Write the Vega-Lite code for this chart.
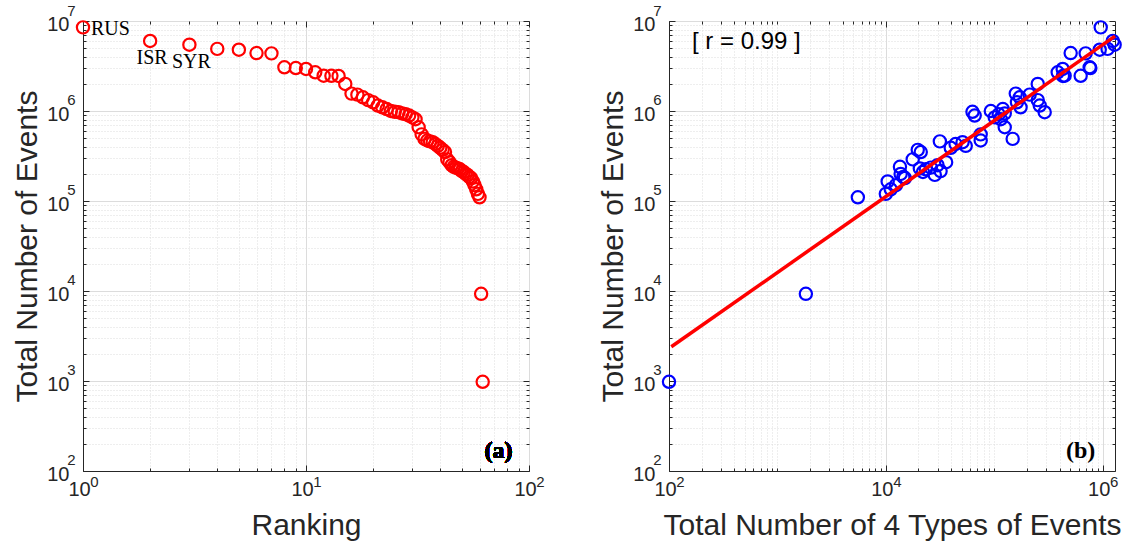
{
  "$schema": "https://vega.github.io/schema/vega-lite/v6.json",
  "background": "white",
  "padding": {"left": 12, "top": 2, "right": 5, "bottom": 5},
  "bounds": "flush",
  "spacing": 140,
  "datasets": {
    "countries": [
      {"rank": 1, "total": 8500000, "x4": 960000, "label": "RUS"},
      {"rank": 2, "total": 6000000, "x4": 1240000, "label": "ISR"},
      {"rank": 3, "total": 5460000, "x4": 1290000, "label": "SYR"},
      {"rank": 4, "total": 4900000, "x4": 1110000, "label": ""},
      {"rank": 5, "total": 4800000, "x4": 940000, "label": ""},
      {"rank": 6, "total": 4400000, "x4": 507000, "label": ""},
      {"rank": 7, "total": 4370000, "x4": 697000, "label": ""},
      {"rank": 8, "total": 3060000, "x4": 759000, "label": ""},
      {"rank": 9, "total": 3000000, "x4": 770000, "label": ""},
      {"rank": 10, "total": 2930000, "x4": 428000, "label": ""},
      {"rank": 11, "total": 2690000, "x4": 385000, "label": ""},
      {"rank": 12, "total": 2470000, "x4": 446000, "label": ""},
      {"rank": 13, "total": 2460000, "x4": 627000, "label": ""},
      {"rank": 14, "total": 2450000, "x4": 430000, "label": ""},
      {"rank": 15, "total": 2000000, "x4": 252000, "label": ""},
      {"rank": 16, "total": 1560000, "x4": 158000, "label": ""},
      {"rank": 17, "total": 1520000, "x4": 212000, "label": ""},
      {"rank": 18, "total": 1420000, "x4": 172000, "label": ""},
      {"rank": 19, "total": 1320000, "x4": 252000, "label": ""},
      {"rank": 20, "total": 1250000, "x4": 162000, "label": ""},
      {"rank": 21, "total": 1150000, "x4": 263000, "label": ""},
      {"rank": 22, "total": 1100000, "x4": 175000, "label": ""},
      {"rank": 23, "total": 1050000, "x4": 120000, "label": ""},
      {"rank": 24, "total": 1000000, "x4": 93000, "label": ""},
      {"rank": 25, "total": 980000, "x4": 63000, "label": ""},
      {"rank": 26, "total": 970000, "x4": 292000, "label": ""},
      {"rank": 27, "total": 940000, "x4": 125000, "label": ""},
      {"rank": 28, "total": 920000, "x4": 110000, "label": ""},
      {"rank": 29, "total": 890000, "x4": 66000, "label": ""},
      {"rank": 30, "total": 850000, "x4": 101000, "label": ""},
      {"rank": 31, "total": 810000, "x4": 115000, "label": ""},
      {"rank": 32, "total": 660000, "x4": 125000, "label": ""},
      {"rank": 33, "total": 550000, "x4": 75000, "label": ""},
      {"rank": 34, "total": 490000, "x4": 148000, "label": ""},
      {"rank": 35, "total": 470000, "x4": 75000, "label": ""},
      {"rank": 36, "total": 460000, "x4": 31500, "label": ""},
      {"rank": 37, "total": 450000, "x4": 51000, "label": ""},
      {"rank": 38, "total": 430000, "x4": 44000, "label": ""},
      {"rank": 39, "total": 410000, "x4": 54600, "label": ""},
      {"rank": 40, "total": 390000, "x4": 39700, "label": ""},
      {"rank": 41, "total": 370000, "x4": 19700, "label": ""},
      {"rank": 42, "total": 350000, "x4": 21000, "label": ""},
      {"rank": 43, "total": 290000, "x4": 17700, "label": ""},
      {"rank": 44, "total": 270000, "x4": 36000, "label": ""},
      {"rank": 45, "total": 250000, "x4": 30000, "label": ""},
      {"rank": 46, "total": 240000, "x4": 13500, "label": ""},
      {"rank": 47, "total": 235000, "x4": 26000, "label": ""},
      {"rank": 48, "total": 230000, "x4": 20600, "label": ""},
      {"rank": 49, "total": 225000, "x4": 23400, "label": ""},
      {"rank": 50, "total": 215000, "x4": 32000, "label": ""},
      {"rank": 51, "total": 210000, "x4": 22000, "label": ""},
      {"rank": 52, "total": 200000, "x4": 13700, "label": ""},
      {"rank": 53, "total": 195000, "x4": 28300, "label": ""},
      {"rank": 54, "total": 185000, "x4": 14500, "label": ""},
      {"rank": 55, "total": 180000, "x4": 15000, "label": ""},
      {"rank": 56, "total": 165000, "x4": 10400, "label": ""},
      {"rank": 57, "total": 150000, "x4": 12400, "label": ""},
      {"rank": 58, "total": 135000, "x4": 11100, "label": ""},
      {"rank": 59, "total": 120000, "x4": 10000, "label": ""},
      {"rank": 60, "total": 110000, "x4": 5520, "label": ""},
      {"rank": 61, "total": 9300, "x4": 1830, "label": ""},
      {"rank": 62, "total": 980, "x4": 100, "label": ""}
    ],
    "fit": [
      {"x": 105, "y": 2400},
      {"x": 1300000, "y": 6800000}
    ]
  },
  "config": {
    "font": "Liberation Sans",
    "view": {"stroke": "#262626", "strokeWidth": 1},
    "axis": {
      "labelFont": "Liberation Sans",
      "labelFontSize": 20,
      "labelColor": "#262626",
      "titleFont": "Liberation Sans",
      "titleFontSize": 30,
      "titleFontWeight": "normal",
      "titleColor": "#262626",
      "domainColor": "#262626",
      "tickColor": "#262626",
      "gridColor": "#dcdcdc",
      "gridWidth": 1,
      "labelOverlap": false,
      "labelFlush": false,
      "labelBound": false
    }
  },
  "hconcat": [
    {
      "width": 446,
      "height": 450,
      "data": {"name": "countries"},
      "resolve": {"axis": {"x": "independent", "y": "independent"}},
      "encoding": {
        "x": {"field": "rank", "type": "quantitative", "scale": {"type": "log", "domain": [1, 100]}, "axis": null},
        "y": {"field": "total", "type": "quantitative", "scale": {"type": "log", "domain": [100, 10000000]}, "axis": null}
      },
      "layer": [
        {
          "mark": {"type": "point", "shape": "circle", "filled": false, "color": "#ff0000", "size": 150, "strokeWidth": 2.2, "opacity": 1},
          "encoding": {
            "x": {
              "field": "rank", "type": "quantitative",
              "scale": {"type": "log", "domain": [1, 100]},
              "axis": {
                "title": "Ranking",
                "values": [1,1.0001,2,3,4,5,6,7,8,9,10,10.001,20,30,40,50,60,70,80,90,99.99,100],
                "labelExpr": "abs(log(datum.value)/LN10 - round(log(datum.value)/LN10)) < 0.000001 ? '10' : (abs(log(datum.value)/LN10 - round(log(datum.value)/LN10)) < 0.001 ? '' + round(log(datum.value)/LN10) : '')",
                "labelFontSize": {"condition": {"test": "abs(log(datum.value)/LN10 - round(log(datum.value)/LN10)) >= 0.000001 && abs(log(datum.value)/LN10 - round(log(datum.value)/LN10)) < 0.001", "value": 15}, "value": 20},
                "labelPadding": {"condition": {"test": "abs(log(datum.value)/LN10 - round(log(datum.value)/LN10)) >= 0.000001 && abs(log(datum.value)/LN10 - round(log(datum.value)/LN10)) < 0.001", "value": 6}, "value": 14},
                "labelOffset": {"condition": {"test": "abs(log(datum.value)/LN10 - round(log(datum.value)/LN10)) >= 0.000001 && abs(log(datum.value)/LN10 - round(log(datum.value)/LN10)) < 0.001", "value": 11}, "value": -4},
                "gridDash": {"condition": {"test": "abs(log(datum.value)/LN10 - round(log(datum.value)/LN10)) < 0.000001", "value": []}, "value": [1, 2]},
                "gridOpacity": {"condition": {"test": "abs(log(datum.value)/LN10 - round(log(datum.value)/LN10)) >= 0.000001 && abs(log(datum.value)/LN10 - round(log(datum.value)/LN10)) < 0.001", "value": 0}, "value": 1},
                "tickOpacity": {"condition": {"test": "abs(log(datum.value)/LN10 - round(log(datum.value)/LN10)) >= 0.000001 && abs(log(datum.value)/LN10 - round(log(datum.value)/LN10)) < 0.001", "value": 0}, "value": 1},
                "tickSize": {"condition": {"test": "abs(log(datum.value)/LN10 - round(log(datum.value)/LN10)) < 0.000001", "value": -6}, "value": -3},
                "titlePadding": 8
              }
            },
            "y": {
              "field": "total", "type": "quantitative",
              "scale": {"type": "log", "domain": [100, 10000000]},
              "axis": {
                "title": "Total Number of Events",
                "values": [100,100.01,200,300,400,500,600,700,800,900,1000,1000.1,2000,3000,4000,5000,6000,7000,8000,9000,10000,10001,20000,30000,40000,50000,60000,70000,80000,90000,100000,100010,200000,300000,400000,500000,600000,700000,800000,900000,1000000,1000100,2000000,3000000,4000000,5000000,6000000,7000000,8000000,9000000,9999000,10000000],
                "labelExpr": "abs(log(datum.value)/LN10 - round(log(datum.value)/LN10)) < 0.000001 ? '10' : (abs(log(datum.value)/LN10 - round(log(datum.value)/LN10)) < 0.001 ? '' + round(log(datum.value)/LN10) : '')",
                "labelFontSize": {"condition": {"test": "abs(log(datum.value)/LN10 - round(log(datum.value)/LN10)) >= 0.000001 && abs(log(datum.value)/LN10 - round(log(datum.value)/LN10)) < 0.001", "value": 15}, "value": 20},
                "labelPadding": {"condition": {"test": "abs(log(datum.value)/LN10 - round(log(datum.value)/LN10)) >= 0.000001 && abs(log(datum.value)/LN10 - round(log(datum.value)/LN10)) < 0.001", "value": 11}, "value": 20},
                "labelOffset": {"condition": {"test": "abs(log(datum.value)/LN10 - round(log(datum.value)/LN10)) >= 0.000001 && abs(log(datum.value)/LN10 - round(log(datum.value)/LN10)) < 0.001", "value": -11}, "value": 3},
                "gridDash": {"condition": {"test": "abs(log(datum.value)/LN10 - round(log(datum.value)/LN10)) < 0.000001", "value": []}, "value": [1, 2]},
                "gridOpacity": {"condition": {"test": "abs(log(datum.value)/LN10 - round(log(datum.value)/LN10)) >= 0.000001 && abs(log(datum.value)/LN10 - round(log(datum.value)/LN10)) < 0.001", "value": 0}, "value": 1},
                "tickOpacity": {"condition": {"test": "abs(log(datum.value)/LN10 - round(log(datum.value)/LN10)) >= 0.000001 && abs(log(datum.value)/LN10 - round(log(datum.value)/LN10)) < 0.001", "value": 0}, "value": 1},
                "tickSize": {"condition": {"test": "abs(log(datum.value)/LN10 - round(log(datum.value)/LN10)) < 0.000001", "value": -6}, "value": -3},
                "titlePadding": 4
              }
            }
          }
        },
        {
          "mark": {"type": "point", "shape": "circle", "filled": false, "opacity": 0},
          "encoding": {
            "x": {
              "field": "rank", "type": "quantitative",
              "scale": {"type": "log", "domain": [1, 100]},
              "axis": {
                "orient": "top", "title": null, "labels": false, "domain": false, "grid": false,
                "values": [1,2,3,4,5,6,7,8,9,10,20,30,40,50,60,70,80,90,100],
                "tickSize": {"condition": {"test": "abs(log(datum.value)/LN10 - round(log(datum.value)/LN10)) < 0.000001", "value": -6}, "value": -3}
              }
            },
            "y": {
              "field": "total", "type": "quantitative",
              "scale": {"type": "log", "domain": [100, 10000000]},
              "axis": {
                "orient": "right", "title": null, "labels": false, "domain": false, "grid": false,
                "values": [100,200,300,400,500,600,700,800,900,1000,2000,3000,4000,5000,6000,7000,8000,9000,10000,20000,30000,40000,50000,60000,70000,80000,90000,100000,200000,300000,400000,500000,600000,700000,800000,900000,1000000,2000000,3000000,4000000,5000000,6000000,7000000,8000000,9000000,10000000],
                "tickSize": {"condition": {"test": "abs(log(datum.value)/LN10 - round(log(datum.value)/LN10)) < 0.000001", "value": -6}, "value": -3}
              }
            }
          }
        },
        {
          "transform": [{"filter": "datum.label == 'RUS'"}],
          "mark": {"type": "text", "align": "left", "baseline": "middle", "dx": 8, "dy": 2, "font": "Liberation Serif", "fontSize": 20, "color": "#000000"},
          "encoding": {"text": {"field": "label"}}
        },
        {
          "transform": [{"filter": "datum.label == 'ISR' || datum.label == 'SYR'"}],
          "mark": {"type": "text", "align": "center", "baseline": "middle", "dy": 17, "dx": 2, "font": "Liberation Serif", "fontSize": 20, "color": "#000000"},
          "encoding": {"text": {"field": "label"}}
        },
        {
          "mark": {"type": "text", "align": "center", "baseline": "middle", "font": "Liberation Serif", "fontWeight": "bold", "fontSize": 24, "color": "#000000"},
          "encoding": {
            "x": {"datum": 73, "type": "quantitative", "scale": {"type": "log", "domain": [1, 100]}},
            "y": {"datum": 166, "type": "quantitative", "scale": {"type": "log", "domain": [100, 10000000]}},
            "text": {"value": "(a)"}
          }
        }
      ]
    },
    {
      "width": 446,
      "height": 450,
      "resolve": {"axis": {"x": "independent", "y": "independent"}},
      "layer": [
        {
          "data": {"name": "countries"},
          "mark": {"type": "point", "shape": "circle", "filled": false, "color": "#0000ff", "size": 150, "strokeWidth": 2.2, "opacity": 1},
          "encoding": {
            "x": {
              "field": "x4", "type": "quantitative",
              "scale": {"type": "log", "domain": [100, 1300000]},
              "axis": {
                "title": "Total Number of 4 Types of Events",
                "values": [100,100.01,200,300,400,500,600,700,800,900,1000,2000,3000,4000,5000,6000,7000,8000,9000,10000,10001,20000,30000,40000,50000,60000,70000,80000,90000,100000,200000,300000,400000,500000,600000,700000,800000,900000,1000000,1000100],
                "labelExpr": "abs(log(datum.value)/LN10 - round(log(datum.value)/LN10)) < 0.000001 && round(log(datum.value)/LN10) % 2 == 0 ? '10' : (abs(log(datum.value)/LN10 - round(log(datum.value)/LN10)) < 0.001 && abs(log(datum.value)/LN10 - round(log(datum.value)/LN10)) >= 0.000001 ? '' + round(log(datum.value)/LN10) : '')",
                "labelFontSize": {"condition": {"test": "abs(log(datum.value)/LN10 - round(log(datum.value)/LN10)) >= 0.000001 && abs(log(datum.value)/LN10 - round(log(datum.value)/LN10)) < 0.001", "value": 15}, "value": 20},
                "labelPadding": {"condition": {"test": "abs(log(datum.value)/LN10 - round(log(datum.value)/LN10)) >= 0.000001 && abs(log(datum.value)/LN10 - round(log(datum.value)/LN10)) < 0.001", "value": 6}, "value": 14},
                "labelOffset": {"condition": {"test": "abs(log(datum.value)/LN10 - round(log(datum.value)/LN10)) >= 0.000001 && abs(log(datum.value)/LN10 - round(log(datum.value)/LN10)) < 0.001", "value": 11}, "value": -4},
                "gridDash": {"condition": {"test": "abs(log(datum.value)/LN10 - round(log(datum.value)/LN10)) < 0.000001 && round(log(datum.value)/LN10) % 2 == 0", "value": []}, "value": [1, 2]},
                "gridOpacity": {"condition": {"test": "abs(log(datum.value)/LN10 - round(log(datum.value)/LN10)) >= 0.000001 && abs(log(datum.value)/LN10 - round(log(datum.value)/LN10)) < 0.001", "value": 0}, "value": 1},
                "tickOpacity": {"condition": {"test": "abs(log(datum.value)/LN10 - round(log(datum.value)/LN10)) >= 0.000001 && abs(log(datum.value)/LN10 - round(log(datum.value)/LN10)) < 0.001", "value": 0}, "value": 1},
                "tickSize": {"condition": {"test": "abs(log(datum.value)/LN10 - round(log(datum.value)/LN10)) < 0.000001 && round(log(datum.value)/LN10) % 2 == 0", "value": -6}, "value": -3},
                "titlePadding": 8
              }
            },
            "y": {
              "field": "total", "type": "quantitative",
              "scale": {"type": "log", "domain": [100, 10000000]},
              "axis": {
                "title": "Total Number of Events",
                "values": [100,100.01,200,300,400,500,600,700,800,900,1000,1000.1,2000,3000,4000,5000,6000,7000,8000,9000,10000,10001,20000,30000,40000,50000,60000,70000,80000,90000,100000,100010,200000,300000,400000,500000,600000,700000,800000,900000,1000000,1000100,2000000,3000000,4000000,5000000,6000000,7000000,8000000,9000000,9999000,10000000],
                "labelExpr": "abs(log(datum.value)/LN10 - round(log(datum.value)/LN10)) < 0.000001 ? '10' : (abs(log(datum.value)/LN10 - round(log(datum.value)/LN10)) < 0.001 ? '' + round(log(datum.value)/LN10) : '')",
                "labelFontSize": {"condition": {"test": "abs(log(datum.value)/LN10 - round(log(datum.value)/LN10)) >= 0.000001 && abs(log(datum.value)/LN10 - round(log(datum.value)/LN10)) < 0.001", "value": 15}, "value": 20},
                "labelPadding": {"condition": {"test": "abs(log(datum.value)/LN10 - round(log(datum.value)/LN10)) >= 0.000001 && abs(log(datum.value)/LN10 - round(log(datum.value)/LN10)) < 0.001", "value": 11}, "value": 20},
                "labelOffset": {"condition": {"test": "abs(log(datum.value)/LN10 - round(log(datum.value)/LN10)) >= 0.000001 && abs(log(datum.value)/LN10 - round(log(datum.value)/LN10)) < 0.001", "value": -11}, "value": 3},
                "gridDash": {"condition": {"test": "abs(log(datum.value)/LN10 - round(log(datum.value)/LN10)) < 0.000001", "value": []}, "value": [1, 2]},
                "gridOpacity": {"condition": {"test": "abs(log(datum.value)/LN10 - round(log(datum.value)/LN10)) >= 0.000001 && abs(log(datum.value)/LN10 - round(log(datum.value)/LN10)) < 0.001", "value": 0}, "value": 1},
                "tickOpacity": {"condition": {"test": "abs(log(datum.value)/LN10 - round(log(datum.value)/LN10)) >= 0.000001 && abs(log(datum.value)/LN10 - round(log(datum.value)/LN10)) < 0.001", "value": 0}, "value": 1},
                "tickSize": {"condition": {"test": "abs(log(datum.value)/LN10 - round(log(datum.value)/LN10)) < 0.000001", "value": -6}, "value": -3},
                "titlePadding": 4
              }
            }
          }
        },
        {
          "data": {"name": "countries"},
          "mark": {"type": "point", "shape": "circle", "filled": false, "opacity": 0},
          "encoding": {
            "x": {
              "field": "x4", "type": "quantitative",
              "scale": {"type": "log", "domain": [100, 1300000]},
              "axis": {
                "orient": "top", "title": null, "labels": false, "domain": false, "grid": false,
                "values": [100,200,300,400,500,600,700,800,900,1000,2000,3000,4000,5000,6000,7000,8000,9000,10000,20000,30000,40000,50000,60000,70000,80000,90000,100000,200000,300000,400000,500000,600000,700000,800000,900000,1000000],
                "tickSize": {"condition": {"test": "abs(log(datum.value)/LN10 - round(log(datum.value)/LN10)) < 0.000001 && round(log(datum.value)/LN10) % 2 == 0", "value": -6}, "value": -3}
              }
            },
            "y": {
              "field": "total", "type": "quantitative",
              "scale": {"type": "log", "domain": [100, 10000000]},
              "axis": {
                "orient": "right", "title": null, "labels": false, "domain": false, "grid": false,
                "values": [100,200,300,400,500,600,700,800,900,1000,2000,3000,4000,5000,6000,7000,8000,9000,10000,20000,30000,40000,50000,60000,70000,80000,90000,100000,200000,300000,400000,500000,600000,700000,800000,900000,1000000,2000000,3000000,4000000,5000000,6000000,7000000,8000000,9000000,10000000],
                "tickSize": {"condition": {"test": "abs(log(datum.value)/LN10 - round(log(datum.value)/LN10)) < 0.000001", "value": -6}, "value": -3}
              }
            }
          }
        },
        {
          "data": {"name": "fit"},
          "mark": {"type": "line", "color": "#ff0000", "strokeWidth": 3.5},
          "encoding": {
            "x": {"field": "x", "type": "quantitative", "scale": {"type": "log", "domain": [100, 1300000]}, "axis": null},
            "y": {"field": "y", "type": "quantitative", "scale": {"type": "log", "domain": [100, 10000000]}, "axis": null}
          }
        },
        {
          "data": {"values": [{}]},
          "mark": {"type": "text", "align": "left", "baseline": "middle", "font": "Liberation Sans", "fontSize": 24, "color": "#000000"},
          "encoding": {
            "x": {"datum": 163, "type": "quantitative", "scale": {"type": "log", "domain": [100, 1300000]}, "axis": null},
            "y": {"datum": 5850000, "type": "quantitative", "scale": {"type": "log", "domain": [100, 10000000]}, "axis": null},
            "text": {"value": "[ r = 0.99 ]"}
          }
        },
        {
          "data": {"values": [{}]},
          "mark": {"type": "text", "align": "center", "baseline": "middle", "font": "Liberation Serif", "fontWeight": "bold", "fontSize": 24, "color": "#000000"},
          "encoding": {
            "x": {"datum": 627000, "type": "quantitative", "scale": {"type": "log", "domain": [100, 1300000]}, "axis": null},
            "y": {"datum": 166, "type": "quantitative", "scale": {"type": "log", "domain": [100, 10000000]}, "axis": null},
            "text": {"value": "(b)"}
          }
        }
      ]
    }
  ]
}
